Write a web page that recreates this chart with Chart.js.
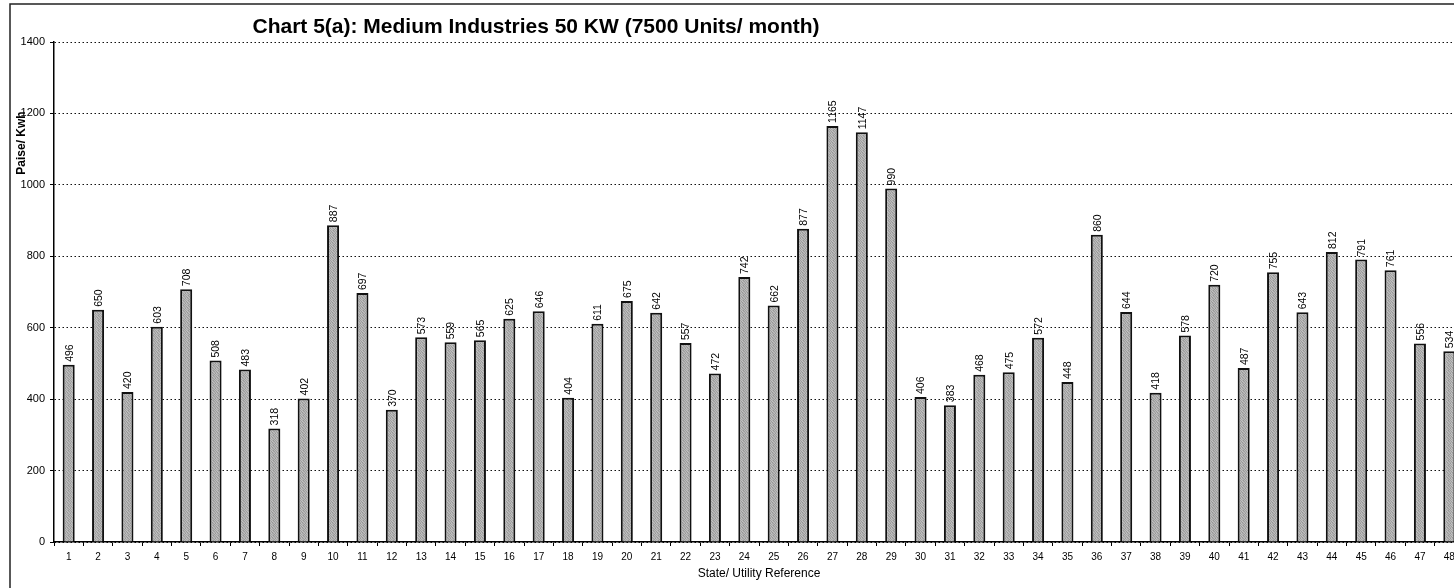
<!DOCTYPE html>
<html>
<head>
<meta charset="utf-8">
<script src="https://cdn.jsdelivr.net/npm/chart.js@4.4.1/dist/chart.umd.min.js"></script>
<style>
  html, body { margin: 0; padding: 0; background: #fff; overflow: hidden; }
  #wrap { position: relative; width: 1464px; height: 588px; }
</style>
</head>
<body>
<div id="wrap"><canvas id="chart" width="1464" height="588"></canvas></div>
<script>
const TITLE = 'Chart 5(a): Medium Industries 50 KW (7500 Units/ month)';
const Y_TITLE = 'Paise/ Kwh';
const X_TITLE = 'State/ Utility Reference';

// State/utility reference numbers 1..48
const refs = [
    1, 2, 3, 4, 5, 6, 7, 8, 9, 10, 11, 12, 13, 14, 15, 16,
    17, 18, 19, 20, 21, 22, 23, 24, 25, 26, 27, 28, 29, 30, 31, 32,
    33, 34, 35, 36, 37, 38, 39, 40, 41, 42, 43, 44, 45, 46, 47, 48
];

// paise per kWh
const tariff = [
    496, 650, 420, 603, 708, 508, 483, 318, 402, 887, 697, 370, 573, 559, 565, 625,
    646, 404, 611, 675, 642, 557, 472, 742, 662, 877, 1165, 1147, 990, 406, 383, 468,
    475, 572, 448, 860, 644, 418, 578, 720, 487, 755, 643, 812, 791, 761, 556, 534
];

const yTicks = [0, 200, 400, 600, 800, 1000, 1200, 1400];

// speckled grey fill like the scanned bars
function makeStipple() {
    const shades = [
        [160, 190, 175, 150, 185],
        [185, 155, 195, 170, 160],
        [170, 180, 150, 190, 175],
        [150, 195, 170, 160, 190],
        [190, 165, 185, 175, 155]
    ];
    const c = document.createElement('canvas');
    c.width = 5; c.height = 5;
    const g = c.getContext('2d');
    shades.forEach((row, y) => row.forEach((v, x) => {
        g.fillStyle = `rgb(${v},${v},${v})`;
        g.fillRect(x, y, 1, 1);
    }));
    return g.createPattern(c, 'repeat');
}

const decorPlugin = {
    id: 'decor',
    beforeDraw(chart) {
        const ctx = chart.ctx;
        ctx.save();
        ctx.fillStyle = '#fff';
        ctx.fillRect(0, 0, chart.width, chart.height);
        // frame of the scanned page
        ctx.strokeStyle = '#222';
        ctx.lineWidth = 1.5;
        ctx.beginPath();
        ctx.moveTo(10, chart.height);
        ctx.lineTo(10, 4);
        ctx.lineTo(chart.width, 4);
        ctx.stroke();
        ctx.restore();
    },
    afterDraw(chart) {
        const ctx = chart.ctx;
        ctx.save();
        ctx.fillStyle = '#000';
        ctx.font = 'bold 21px "Liberation Sans", Arial, sans-serif';
        ctx.textAlign = 'center';
        ctx.textBaseline = 'middle';
        ctx.fillText(TITLE, 536, 27);

        ctx.translate(22, 143);
        ctx.rotate(-Math.PI / 2);
        ctx.font = 'bold 12px "Liberation Sans", Arial, sans-serif';
        ctx.fillText(Y_TITLE, 0, 0);
        ctx.restore();
    },
    afterDatasetsDraw(chart) {
        const ctx = chart.ctx;
        const meta = chart.getDatasetMeta(0);
        ctx.save();
        ctx.fillStyle = '#000';
        ctx.font = '10.5px "Liberation Sans", Arial, sans-serif';
        ctx.textAlign = 'left';
        ctx.textBaseline = 'middle';
        meta.data.forEach((bar, i) => {
            ctx.save();
            ctx.translate(bar.x + 1, bar.y - 3);
            ctx.rotate(-Math.PI / 2);
            ctx.fillText(String(tariff[i]), 0, 0);
            ctx.restore();
        });
        ctx.restore();
    }
};

const ctx = document.getElementById('chart').getContext('2d');
new Chart(ctx, {
    type: 'bar',
    data: {
        labels: refs,
        datasets: [{
            data: tariff,
            backgroundColor: makeStipple(),
            borderColor: '#111',
            borderWidth: 2,
            borderSkipped: 'bottom',
            categoryPercentage: 1,
            barPercentage: 0.41
        }]
    },
    options: {
        responsive: false,
        animation: false,
        layout: { padding: { top: 42, left: 0, right: 0, bottom: 0 } },
        plugins: {
            legend: { display: false },
            title: { display: false },
            tooltip: { enabled: false }
        },
        scales: {
            x: {
                offset: true,
                grid: { drawOnChartArea: false, offset: true, tickLength: 4, color: '#000', tickColor: '#000' },
                border: { color: '#000', width: 1.5 },
                ticks: {
                    color: '#000',
                    padding: 5,
                    maxRotation: 0,
                    autoSkip: false,
                    font: { family: '"Liberation Sans", Arial, sans-serif', size: 10 }
                },
                title: {
                    display: true,
                    text: X_TITLE,
                    color: '#000',
                    padding: { top: 0, bottom: 7 },
                    font: { family: '"Liberation Sans", Arial, sans-serif', size: 12 }
                },
                afterFit(scale) { scale.height = 46; }
            },
            y: {
                min: 0,
                max: 1400,
                afterBuildTicks(scale) { scale.ticks = yTicks.map(v => ({ value: v })); },
                grid: { color: '#111', lineWidth: 1, tickLength: 4, tickColor: '#000', tickBorderDash: [] },
                border: { color: '#000', width: 1.5, dash: [1.5, 2.5] },
                ticks: {
                    color: '#000',
                    padding: 5,
                    callback: v => String(v),
                    font: { family: '"Liberation Sans", Arial, sans-serif', size: 11 }
                },
                afterFit(scale) { scale.width = 54; }
            }
        }
    },
    plugins: [decorPlugin]
});
</script>
</body>
</html>
